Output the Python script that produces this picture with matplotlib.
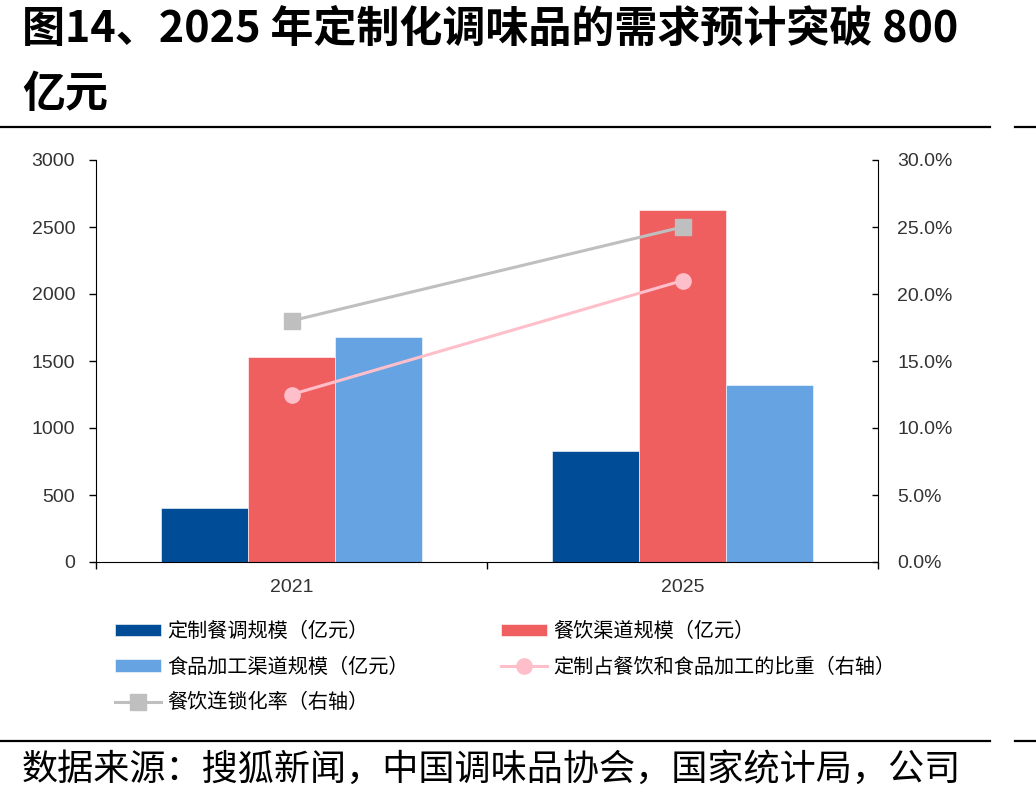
import numpy as np
import matplotlib.pyplot as plt
from matplotlib.lines import Line2D
from matplotlib.ticker import FuncFormatter

plt.rcParams['font.family'] = ['Noto Sans CJK SC', 'DejaVu Sans']

years = ['2021', '2025']
custom_scale = [400, 830]        # 定制餐调规模（亿元）
catering_scale = [1530, 2630]    # 餐饮渠道规模（亿元）
food_scale = [1680, 1320]        # 食品加工渠道规模（亿元）
custom_share = [0.125, 0.21]     # 定制占餐饮和食品加工的比重（右轴）
chain_rate = [0.18, 0.25]        # 餐饮连锁化率（右轴）

c_dark = '#004C97'
c_red = '#EF5F60'
c_light = '#66A3E3'
c_pink = '#FFBFCA'
c_gray = '#BFBFBF'
num_font = 'Liberation Sans'

fig = plt.figure(figsize=(10.36, 8.02), dpi=100)
ax = fig.add_axes([96 / 1036, 1 - 562 / 802, (878 - 96) / 1036, (562 - 160) / 802])
ax2 = ax.twinx()

x = np.arange(len(years))
w = 0.222
b1 = ax.bar(x - w, custom_scale, w, color=c_dark, edgecolor='white', linewidth=0.4)
b2 = ax.bar(x, catering_scale, w, color=c_red, edgecolor='white', linewidth=0.4)
b3 = ax.bar(x + w, food_scale, w, color=c_light, edgecolor='white', linewidth=0.4)
l1, = ax2.plot(x, custom_share, color=c_pink, lw=2.2, marker='o', ms=11)
l2, = ax2.plot(x, chain_rate, color=c_gray, lw=2.2, marker='s', ms=11)

ax.set_xlim(-0.5, 1.5)
ax.set_ylim(0, 3000)
ax.set_yticks(np.arange(0, 3001, 500))
ax2.set_ylim(0, 0.30)
ax2.set_yticks(np.arange(0, 0.301, 0.05))
ax2.yaxis.set_major_formatter(FuncFormatter(lambda v, p: f'{v * 100:.1f}%'))

ax.set_xticks(x)
ax.set_xticklabels(years)
ax.set_xticks([-0.5, 0.5, 1.5], minor=True)
ax.tick_params(axis='x', which='major', length=0, pad=12)
ax.tick_params(axis='x', which='minor', length=5, width=1)

for a in (ax, ax2):
    a.spines['top'].set_visible(False)
ax.spines['right'].set_visible(False)
ax2.spines['left'].set_visible(False)
ax2.spines['bottom'].set_visible(False)
ax.tick_params(axis='y', length=5, width=1, pad=10, direction='out')
ax2.tick_params(axis='y', length=4, width=1, pad=14, direction='in')
for lab in ax.get_xticklabels() + ax.get_yticklabels() + ax2.get_yticklabels():
    lab.set_fontfamily(num_font)
    lab.set_fontsize(14)
    lab.set_color('#333333')

handles = [b1, b3, l2, b2, l1]
labels = ['定制餐调规模（亿元）', '食品加工渠道规模（亿元）', '餐饮连锁化率（右轴）',
          '餐饮渠道规模（亿元）', '定制占餐饮和食品加工的比重（右轴）']
fig.legend(handles, labels, ncol=2, loc='upper left', bbox_to_anchor=(97 / 1036, 1 - 603 / 802),
           frameon=False, fontsize=14.5, handlelength=2.3, handleheight=0.55, handletextpad=0.3,
           columnspacing=4.55, labelspacing=0.72)

# title
fig.text(22 / 1036, 1 - 29 / 802, '图14、2025 年定制化调味品的需求预计突破 800', fontsize=31,
         fontweight='bold', va='center', ha='left')
fig.text(22 / 1036, 1 - 94 / 802, '亿元', fontsize=31, fontweight='bold', va='center', ha='left')

# rules
for yy in (127, 741):
    fig.add_artist(Line2D([0, 990 / 1036], [1 - yy / 802] * 2, color='black', lw=1.6))
    fig.add_artist(Line2D([1015 / 1036, 1], [1 - yy / 802] * 2, color='black', lw=1.6))

fig.text(22 / 1036, 1 - 770 / 802, '数据来源：搜狐新闻，中国调味品协会，国家统计局，公司', fontsize=26,
         va='center', ha='left')

fig.savefig('out.png', dpi=100)
